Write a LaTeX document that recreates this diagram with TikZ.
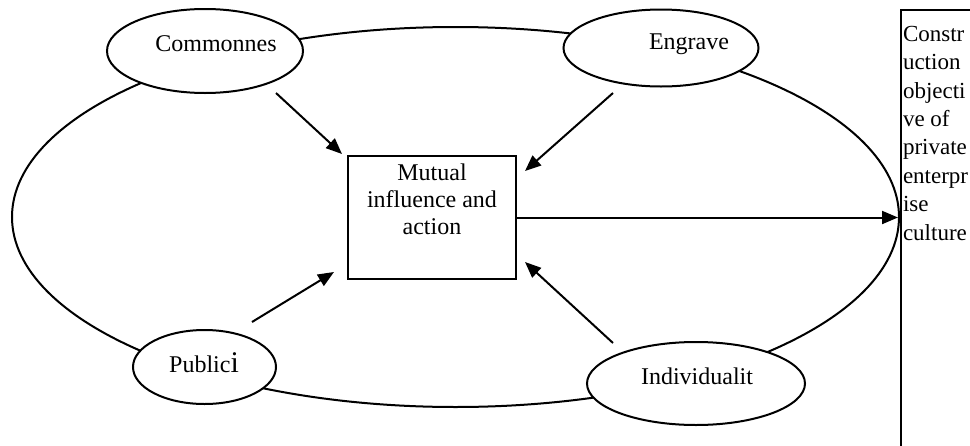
\documentclass[tikz,border=0pt]{standalone}
\usepackage{fontspec}
\setmainfont{Liberation Serif}
\usetikzlibrary{shapes.geometric, arrows.meta, positioning}
\tikzset{
    >={Triangle[length=8pt, width=6.5pt]},
    bubble/.style={ellipse, draw, fill=white, inner sep=0pt},
    box/.style={rectangle, draw, inner sep=0pt},
    caption/.style={inner sep=0pt},
}

\begin{document}
\begin{tikzpicture}[x=0.5pt, y=-0.5pt, line width=1pt, font=\fontsize{12}{13.5}\selectfont]
    \useasboundingbox (0,0) rectangle (970,445);
    \clip (0,0) rectangle (970,445);

    \node[bubble, fill=none, minimum width=443.5pt, minimum height=190pt] (ring) at (455.5,217) {};
    \node[bubble, minimum width=98pt, minimum height=42pt] (common) at (205,51) {};
    \node[bubble, minimum width=97.5pt, minimum height=38.5pt] (engrave) at (661,48) {};
    \node[bubble, minimum width=71.5pt, minimum height=37pt] (public) at (204.5,367) {};
    \node[bubble, minimum width=109pt, minimum height=41.5pt] (indiv) at (696,383.5) {};

    \node[caption] (commontext) at (216,44) {Commonnes};
    \node[caption] (engravetext) at (689,44) {Engrave};
    \node[caption] (publictext) at (204,363) {Public{\fontsize{15}{15}\selectfont i}};
    \node[caption] (indivtext) at (697,376) {Individualit};

    \node[box, minimum width=84pt, minimum height=61.5pt] (mutual) at (432,217.5) {};
    \node[caption, anchor=north, align=center] (mutualtext) at (432,163) {Mutual\\influence and\\action};

    \node[box, anchor=north west, minimum width=100pt, minimum height=250pt] (goal) at (900,9) {};
    \node[caption, anchor=north west, align=left, font=\fontsize{11.5}{14.2}\selectfont] (goaltext) at (902,25)
        {Constr\\uction\\objecti\\ve of\\private\\enterpr\\ise\\culture};

    % free ends of the four influence arrows
    \coordinate (common-out) at (276,93);
    \coordinate (engrave-out) at (613,93);
    \coordinate (public-out) at (252,322);
    \coordinate (indiv-out) at (613,343);
    \coordinate (common-in) at (342,154);
    \coordinate (engrave-in) at (525,171);
    \coordinate (public-in) at (334,272);
    \coordinate (indiv-in) at (525,262);

    \path (common-out) edge[->] (common-in)
          (engrave-out) edge[->] (engrave-in)
          (public-out) edge[->] (public-in)
          (indiv-out) edge[->] (indiv-in)
          (mutual.east) edge[->, shorten >=1pt] (mutual.east -| goal.west)
    ;
\end{tikzpicture}
\end{document}
